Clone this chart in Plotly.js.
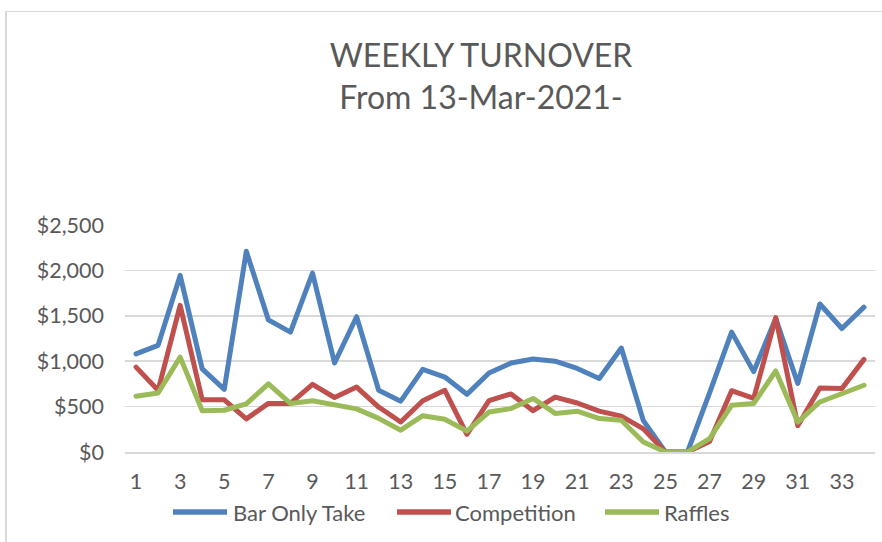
<!DOCTYPE html>
<html>
<head>
<meta charset="utf-8">
<script src="https://cdn.plot.ly/plotly-3.0.1.min.js"></script>
<style>
  html, body { margin: 0; padding: 0; background: #fff; overflow: hidden; }
  #frame { position: absolute; left: 5px; top: 11px; width: 1000px; height: 700px;
           border-left: 2px solid #d9d9d9; border-top: 1px solid #d9d9d9; }
  #chart { position: absolute; left: 0; top: 0; width: 882px; height: 542px; }
  .scatterlayer path.js-line { stroke-linejoin: round; stroke-linecap: round; }
</style>
</head>
<body>
<div id="frame"></div>
<div id="chart"></div>
<script>
const weeks = [1,2,3,4,5,6,7,8,9,10,11,12,13,14,15,16,17,18,19,20,21,22,23,24,25,26,27,28,29,30,31,32,33,34];
const barOnlyTake = [1080,1175,1945,915,690,2210,1455,1320,1970,980,1490,680,560,910,825,635,870,980,1025,1000,920,810,1145,345,0,0,650,1320,885,1470,755,1630,1360,1595];
const competition = [935,680,1615,575,575,365,535,535,745,600,715,495,330,565,680,195,565,640,455,605,540,450,395,255,0,0,115,675,590,1480,290,705,700,1020];
const raffles = [615,650,1045,455,460,530,750,535,565,515,475,370,240,400,360,230,440,478,590,425,450,368,350,110,0,0,148,514,533,892,330,551,650,735];
const seriesNames = ["Bar Only Take", "Competition", "Raffles"];
const seriesColors = ["#4F81BD", "#C0504D", "#9BBB59"];
const xTickVals = [1,3,5,7,9,11,13,15,17,19,21,23,25,27,29,31,33];
const xTickText = ["1","3","5","7","9","11","13","15","17","19","21","23","25","27","29","31","33"];
const yTickVals = [0,500,1000,1500,2000,2500];
const yTickText = ["$0","$500","$1,000","$1,500","$2,000","$2,500"];

const font = "Lato, 'Open Sans', sans-serif";
const txt = "#595959";

// plot area geometry in pixels (for the hand-placed legend)
const W = 882, H = 542, L = 125, R = 7, T = 225, B = 90;
const pw = W - L - R, ph = H - T - B;
const px = v => (v - L) / pw;
const py = v => (H - B - v) / ph;

const data = [barOnlyTake, competition, raffles].map((ys, i) => ({
  x: weeks, y: ys, type: "scatter", mode: "lines", name: seriesNames[i],
  line: { color: seriesColors[i], width: 5 }, showlegend: false
}));

// legend: line swatch start/end and text start in px
const legLine = [[173, 227], [397, 451], [605, 659]];
const legText = [232, 454, 663];
const legY = 512;
const shapes = legLine.map((s, i) => ({
  type: "line", xref: "paper", yref: "paper", x0: px(s[0]), x1: px(s[1]), y0: py(legY), y1: py(legY),
  line: { color: seriesColors[i], width: 5.5 }
}));
const annotations = seriesNames.map((n, i) => ({
  text: n, xref: "paper", yref: "paper", x: px(legText[i]), y: py(legY), xanchor: "left", yanchor: "middle",
  showarrow: false, borderpad: 0, font: { family: font, size: 22, color: txt }
}));

const layout = {
  width: W, height: H,
  paper_bgcolor: "rgba(0,0,0,0)", plot_bgcolor: "rgba(0,0,0,0)",
  margin: { l: L, r: R, t: T, b: B },
  font: { family: font, color: txt },
  title: { text: "WEEKLY TURNOVER<br>From 13-Mar-2021-", x: 481/882, xref: "container", xanchor: "center",
           y: 1 - 67/542, yref: "container", yanchor: "top",
           font: { family: font, size: 32, color: txt } },
  xaxis: { range: [0.5, 34.5], tickvals: xTickVals, ticktext: xTickText,
           showgrid: false, zeroline: false, showline: true, linecolor: "#d9d9d9", linewidth: 1.5,
           ticks: "", tickfont: { size: 21.5, color: txt }, ticklabelstandoff: 10, fixedrange: true },
  yaxis: { range: [0, 2500], tickvals: yTickVals, ticktext: yTickText,
           showgrid: true, gridcolor: "#d9d9d9", gridwidth: 1.5, zeroline: false,
           ticks: "", tickfont: { size: 21.5, color: txt }, ticklabelstandoff: 20, fixedrange: true },
  showlegend: false,
  shapes: shapes,
  annotations: annotations
};

Plotly.newPlot("chart", data, layout, { staticPlot: true, displayModeBar: false });
</script>
</body>
</html>
